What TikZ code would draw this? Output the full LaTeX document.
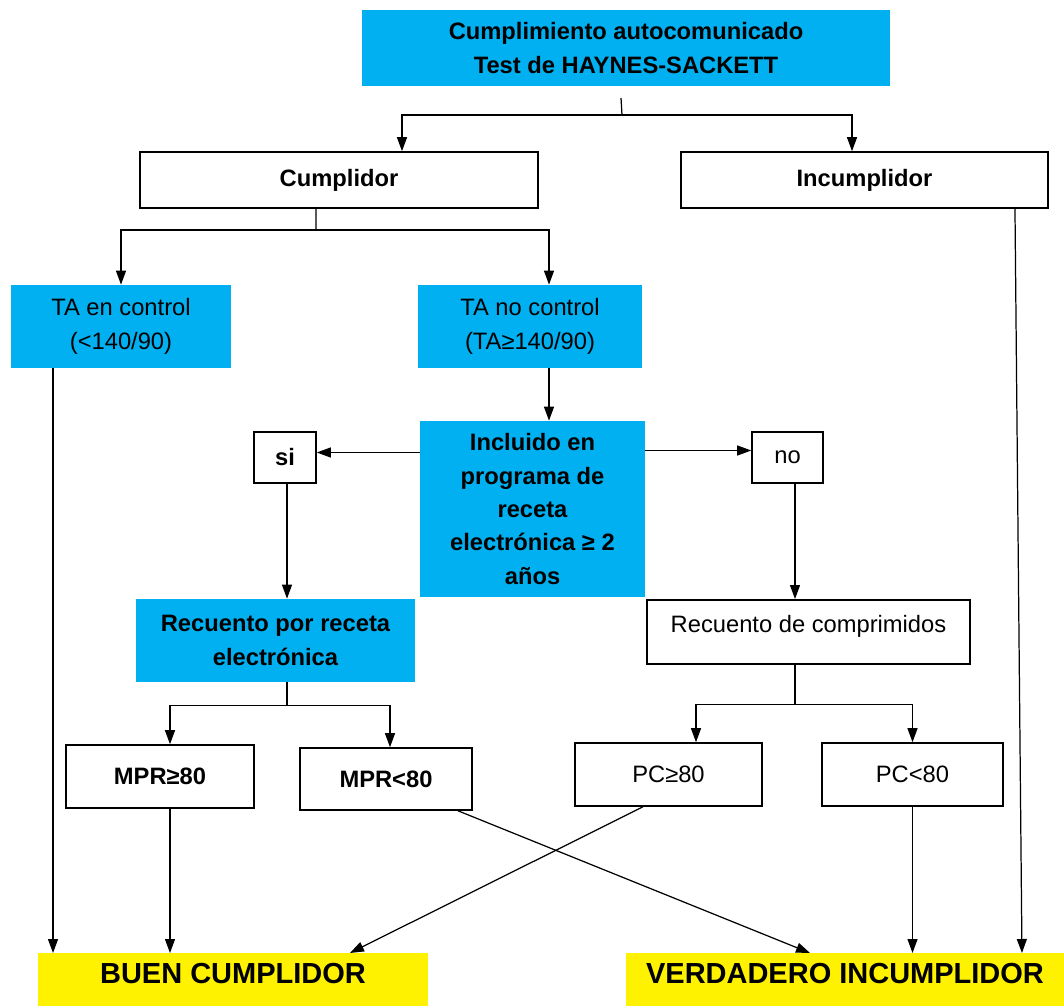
\documentclass[tikz,border=0pt]{standalone}
\usepackage{fontspec}
\setmainfont{Liberation Sans}
\usetikzlibrary{arrows.meta,positioning}
\definecolor{skyblue}{HTML}{00B0F0}
\newcommand{\boxfont}{\fontsize{13.5}{19}\selectfont}
\tikzset{>={Triangle[length=2.8mm,width=2mm]}}

\begin{document}
\begin{tikzpicture}
    [
      x=0.02cm, y=-0.02cm,
      every node/.style={font=\boxfont, align=center, inner sep=0pt},
      boldtext/.style={font=\boxfont\bfseries},
      bluebox/.style={rectangle, fill=skyblue},
      whitebox/.style={rectangle, draw, line width=0.9pt},
      yellowbox/.style={rectangle, fill=yellow, font=\fontsize{16.5}{19}\selectfont\bfseries},
      arr/.style={->, draw, line width=0.7pt},
      plain/.style={draw, line width=0.7pt}
    ]
    \useasboundingbox (0,0) rectangle (1064,1006);

    \node (top) [bluebox, boldtext, minimum width=10.56cm, minimum height=1.52cm] at (626,48) {Cumplimiento autocomunicado\\Test de HAYNES-SACKETT};
    \node (cump) [whitebox, boldtext, minimum width=7.96cm, minimum height=1.12cm] at (339,180) {Cumplidor};
    \node (incump) [whitebox, boldtext, minimum width=7.34cm, minimum height=1.12cm] at (864.5,180) {Incumplidor};
    \node (tactrl) [bluebox, minimum width=4.4cm, minimum height=1.66cm] at (121,326.5) {TA en control\\(<140/90)};
    \node (tanoctrl) [bluebox, minimum width=4.48cm, minimum height=1.66cm] at (530,326.5) {TA no control\\(TA≥140/90)};
    \node (incl) [bluebox, boldtext, minimum width=4.5cm, minimum height=3.52cm] at (532.5,509) {Incluido en\\programa de\\receta\\electrónica ≥ 2\\años};
    \node (si) [whitebox, boldtext, minimum width=1.24cm, minimum height=1.02cm] at (285,457.5) {si};
    \node (no) [whitebox, minimum width=1.42cm, minimum height=1.02cm] at (787.5,457.5) {no};
    \node (rrec) [bluebox, boldtext, minimum width=5.58cm, minimum height=1.66cm] at (275.5,640.5) {Recuento por receta\\electrónica};
    \node (rcomp) [whitebox, anchor=north, minimum width=6.46cm, text height=0.66cm, text depth=0.62cm] at (808.5,599) {Recuento de comprimidos};
    \node (mprhi) [whitebox, boldtext, minimum width=3.76cm, minimum height=1.26cm] at (160,776.5) {MPR≥80};
    \node (mprlo) [whitebox, boldtext, minimum width=3.44cm, minimum height=1.24cm] at (386,779) {MPR<80};
    \node (pchi) [whitebox, minimum width=3.74cm, minimum height=1.26cm] at (668.5,774.5) {PC≥80};
    \node (pclo) [whitebox, minimum width=3.62cm, minimum height=1.26cm] at (912.5,774.5) {PC<80};
    \node (buen) [yellowbox, anchor=north, minimum width=7.8cm, text height=0.6cm, text depth=0.46cm] at (233,953) {BUEN CUMPLIDOR};
    \node (verd) [yellowbox, anchor=north, minimum width=8.76cm, text height=0.6cm, text depth=0.46cm] at (845,953) {VERDADERO INCUMPLIDOR};

    \coordinate (stub) at (621,98);
    \coordinate (f1) at (622,115);
    \draw [plain] (stub) -- (f1);
    \draw [arr] (f1) -| ([xshift=1.26cm]cump.north);
    \draw [arr] (f1) -| ([xshift=-0.25cm]incump.north);

    \coordinate (f2) at (316,230);
    \draw [plain] ([xshift=-0.46cm]cump.south) -- (f2);
    \draw [arr] (f2) -| (tactrl.north);
    \draw [arr] (f2) -| ([xshift=0.38cm]tanoctrl.north);

    \coordinate (a1) at ([xshift=0.38cm]tanoctrl.south);
    \draw [arr] (a1) -- (a1 |- incl.north);
    \draw [arr] ([yshift=0.1cm]incl.west |- si.east) -- ([yshift=0.1cm]si.east);
    \draw [arr] ([yshift=0.14cm]incl.east |- no.west) -- ([yshift=0.14cm]no.west);
    \coordinate (a2) at ([xshift=0.04cm]si.south);
    \draw [arr] (a2) -- (a2 |- rrec.north);
    \coordinate (a3) at ([xshift=0.15cm]no.south);
    \draw [arr] (a3) -- (a3 |- rcomp.north);

    \coordinate (a4) at ([xshift=0.23cm]rrec.south);
    \coordinate [below=0.46cm of a4] (f3);
    \draw [plain] (a4) -- (f3);
    \draw [arr] (f3) -| ([xshift=0.2cm]mprhi.north);
    \draw [arr] (f3) -| ([xshift=0.08cm]mprlo.north);

    \coordinate (a5) at ([xshift=-0.27cm]rcomp.south);
    \coordinate [below=0.8cm of a5] (f4);
    \draw [plain] (a5) -- (f4);
    \draw [arr] (f4) -| ([xshift=0.55cm]pchi.north);
    \draw [arr] (f4) -| (pclo.north);

    \coordinate (d1) at ([xshift=-1.36cm]tactrl.south);
    \draw [arr] (d1) -- (d1 |- buen.north);
    \coordinate (d2) at ([xshift=0.2cm]mprhi.south);
    \draw [arr] (d2) -- (d2 |- buen.north);
    \draw [arr] ([xshift=-0.51cm]pchi.south) -- ([xshift=2.34cm]buen.north);
    \draw [arr] ([xshift=1.44cm]mprlo.south) -- ([xshift=-0.7cm]verd.north);
    \draw [arr] (pclo.south) -- (pclo.south |- verd.north);
    \draw [arr] ([xshift=3.01cm]incump.south) -- ([xshift=3.54cm]verd.north);
\end{tikzpicture}
\end{document}
